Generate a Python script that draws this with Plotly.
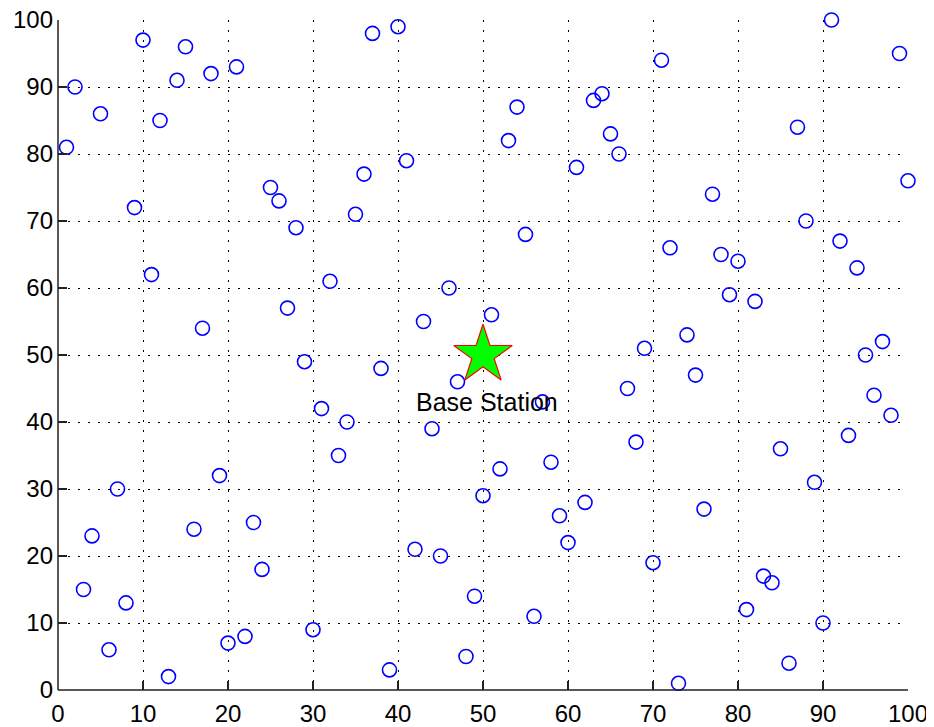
import plotly.graph_objects as go

node_x = [10, 15, 2, 14, 18, 21, 5, 12, 1, 9, 25, 26, 28, 11, 17, 27, 29, 31, 32, 37,
          40, 41, 36, 35, 46, 43, 51, 38, 34, 47, 44, 33, 57, 58, 52, 50, 53, 54, 55, 63,
          64, 65, 66, 61, 71, 72, 77, 78, 80, 79, 82, 74, 69, 75, 67, 68, 87, 91, 99, 100,
          88, 92, 94, 95, 97, 96, 98, 93, 85, 89, 76, 70, 62, 59, 60, 56, 49, 48, 45, 42,
          39, 30, 22, 20, 24, 23, 16, 19, 7, 4, 3, 8, 6, 13, 73, 81, 83, 84, 86, 90]
node_y = [97, 96, 90, 91, 92, 93, 86, 85, 81, 72, 75, 73, 69, 62, 54, 57, 49, 42, 61, 98,
          99, 79, 77, 71, 60, 55, 56, 48, 40, 46, 39, 35, 43, 34, 33, 29, 82, 87, 68, 88,
          89, 83, 80, 78, 94, 66, 74, 65, 64, 59, 58, 53, 51, 47, 45, 37, 84, 100, 95, 76,
          70, 67, 63, 50, 52, 44, 41, 38, 36, 31, 27, 19, 28, 26, 22, 11, 14, 5, 20, 21,
          3, 9, 8, 7, 18, 25, 24, 32, 30, 23, 15, 13, 6, 2, 1, 12, 17, 16, 4, 10]

bs_x = [50]
bs_y = [50]
bs_label = "Base Station"
bs_label_y = 43

ticks = [0, 10, 20, 30, 40, 50, 60, 70, 80, 90, 100]

FONT = "Liberation Sans, Arial, sans-serif"
AXIS_COLOR = "#222222"

fig = go.Figure()
fig.add_trace(go.Scatter(
    x=node_x, y=node_y, mode="markers",
    marker=dict(symbol="circle-open", size=14, color="#0000ff", line=dict(width=1.6, color="#0000ff")),
    cliponaxis=False, showlegend=False, hoverinfo="x+y",
))
fig.add_trace(go.Scatter(
    x=bs_x, y=bs_y, mode="markers",
    marker=dict(symbol="star", size=44, color="#00ff00", line=dict(width=1.2, color="#ff0000")),
    cliponaxis=False, showlegend=False,
))
fig.add_annotation(x=bs_x[0], y=bs_label_y, text=bs_label, showarrow=False, xshift=4,
                   font=dict(family=FONT, size=25, color="#000000"))

axis_common = dict(
    range=[0, 100], tickvals=ticks, ticktext=[str(t) for t in ticks],
    showgrid=True, gridcolor="#000000", gridwidth=1, griddash="1.5px,8.5px",
    zeroline=False, showline=False,
    ticks="inside", ticklen=9, tickwidth=1.5, tickcolor=AXIS_COLOR,
    tickfont=dict(family=FONT, size=24, color="#000000"),
    ticklabeloverflow="allow",
    fixedrange=True, automargin=False,
)
fig.update_xaxes(**axis_common, ticklabelstandoff=7)
fig.update_yaxes(**axis_common, ticklabelstandoff=4)

# axis lines (left and bottom only, like the original box-off style)
fig.add_shape(type="line", xref="paper", yref="paper", x0=0, x1=1, y0=0, y1=0,
              line=dict(color=AXIS_COLOR, width=1.5), layer="above")
fig.add_shape(type="line", xref="paper", yref="paper", x0=0, x1=0, y0=0, y1=1,
              line=dict(color=AXIS_COLOR, width=1.5), layer="above")

fig.update_layout(
    width=926, height=719,
    margin=dict(l=50, r=26, t=12, b=37, pad=0),
    plot_bgcolor="#ffffff", paper_bgcolor="#ffffff",
    showlegend=False,
)

fig.write_html("out.html")
